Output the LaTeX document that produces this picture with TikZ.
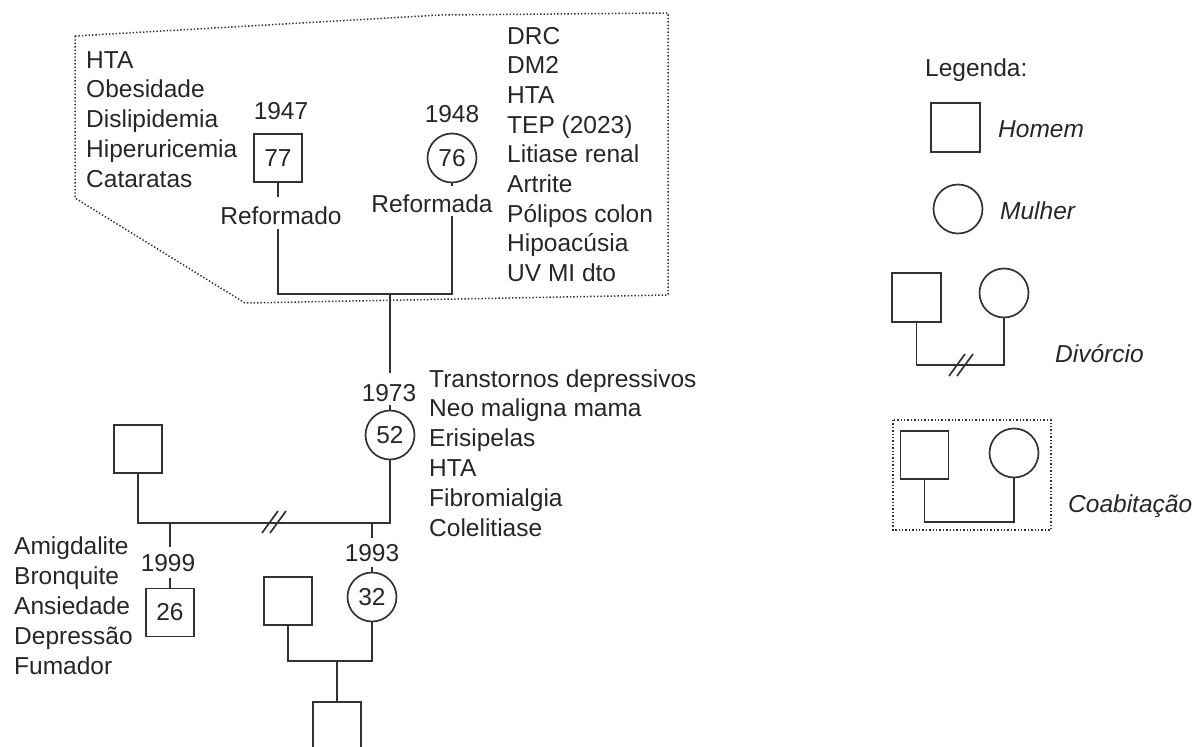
\documentclass[tikz,border=0pt]{standalone}
\usepackage{fontspec}
\setmainfont{Liberation Sans}
\definecolor{ink}{RGB}{38,38,38}
\definecolor{wire}{RGB}{50,50,50}
\newcommand{\fs}{\fontsize{24.5}{30}\selectfont}
\begin{document}
\begin{tikzpicture}[x=1pt,y=-1pt,
  every node/.style={font=\fs,text=ink,inner sep=0pt},
  male/.style={draw=wire,rectangle,minimum size=48pt,line width=1.7pt},
  female/.style={draw=wire,circle,minimum size=49pt,line width=1.7pt},
  lbl/.style={anchor=base west},
  yr/.style={anchor=base},
  leg/.style={anchor=base west,font=\fs\itshape},
  dotbox/.style={draw=wire,line width=1.5pt,dash pattern=on 1.4pt off 2pt},
  rel/.style={draw=wire,line width=1.7pt}]
\useasboundingbox (0,0) rectangle (1195,747);
\clip (0,0) rectangle (1195,747);
% ---------- top generation ----------
\draw[dotbox] (75,36) -- (440,15) -- (668,13) -- (668,295) -- (245,303) -- (75,198) -- cycle;
\foreach \t [count=\i from 0] in {HTA,Obesidade,Dislipidemia,Hiperuricemia,Cataratas}
  \node[lbl] (tl\i) at (86,68+29.8*\i) {\t};
\foreach \t [count=\i from 0] in {DRC,DM2,HTA,TEP (2023),Litiase renal,Artrite,Pólipos colon,Hipoacúsia,UV MI dto}
  \node[lbl] (tr\i) at (507,44+29.7*\i) {\t};
\node[yr] (y47) at (281,119) {1947};
\node[male] (gf) at (278,158) {77};
\node[yr] (ref1) at (281,224) {Reformado};
\node[yr] (y48) at (452,122) {1948};
\node[female] (gm) at (452,158) {76};
\node[yr] (ref2) at (432,212) {Reformada};
\coordinate (gfl) at (278,229);
\coordinate (gml) at (452,216);
\coordinate (m1) at (390,294);
\draw[rel] (gf.south) -- ++(0,14);
\draw[rel] (gm.south) -- ++(0,3);
\draw[rel] (gfl) |- (m1) -| (gml);
% ---------- second generation ----------
\node[yr] (y73) at (389,401) {1973};
\node[female] (mo) at (390,435) {52};
\node[male] (fa) at (138,449) {};
\coordinate (m2) at (390,523);
\draw[rel] (m1) -- (390,373);
\draw[rel] (390,405) -- (mo.north);
\draw[rel] (fa.south) |- (m2) -- (mo.south);
\draw[rel] (262,533) -- (278,511) (270,533) -- (286,511);
\foreach \t [count=\i from 0] in {Transtornos depressivos,Neo maligna mama,Erisipelas,HTA,Fibromialgia,Colelitiase}
  \node[lbl] (tm\i) at (429,387+29.8*\i) {\t};
% ---------- third generation ----------
\coordinate (c1) at (170,523);
\coordinate (c2) at (372,523);
\node[yr] (y99) at (168,571) {1999};
\node[male] (s26) at (170,612.5) {26};
\node[yr] (y93) at (372,561) {1993};
\node[female] (d32) at (372,597) {32};
\draw[rel] (c1) -- (170,547);
\draw[rel] (170,578) -- (s26.north);
\draw[rel] (c2) -- (372,538);
\draw[rel] (372,567) -- (d32.north);
\foreach \t [count=\i from 0] in {Amigdalite,Bronquite,Ansiedade,Depressão,Fumador}
  \node[lbl] (tb\i) at (14,554+30*\i) {\t};
\node[male] (pa) at (288,601) {};
\node[male] (gc) at (337,726) {};
\coordinate (m3) at (337,661);
\draw[rel] (pa.south) |- (d32.south |- m3) -- (d32.south);
\draw[rel] (m3) -- (gc.north);
% ---------- legend ----------
\node[lbl] (legt) at (925,76) {Legenda:};
\node[male,minimum size=49pt] (lm) at (955.5,127.5) {};
\node[leg] (lmt) at (998,137) {Homem};
\node[female,minimum size=49pt] (lf) at (958,209) {};
\node[leg] (lft) at (1000,219) {Mulher};
\node[male,minimum size=49pt] (dm) at (916.5,297.5) {};
\node[female,minimum size=49pt] (df) at (1004,293) {};
\coordinate (dl) at (960,365);
\draw[rel] (dm.south) |- (dl) -| (df.south);
\draw[rel] (949,376) -- (965,354) (957,376) -- (973,354);
\node[leg] (dt) at (1055,362) {Divórcio};
\draw[dotbox] (893,420) rectangle (1051,530);
\node[male,minimum size=48pt] (cm) at (924.5,455) {};
\node[female,minimum size=49pt] (cf) at (1014,453) {};
\coordinate (cl) at (970,522);
\draw[rel] (cm.south) |- (cl) -| (cf.south);
\node[leg] (ct) at (1068,512) {Coabitação};
\end{tikzpicture}
\end{document}
